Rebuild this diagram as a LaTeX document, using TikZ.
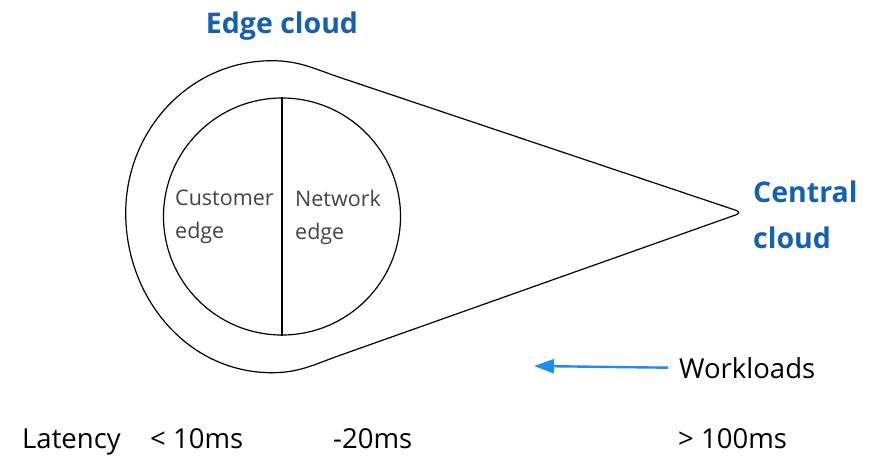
\documentclass[tikz,border=0pt]{standalone}
\usepackage{fontspec}
\setmainfont{Open Sans}
\usepackage{xcolor}
\definecolor{cloudBlue}{HTML}{1560B0}
\definecolor{edgeGray}{HTML}{444444}
\definecolor{flowBlue}{HTML}{1A8FEF}
\usepackage{tikz}
\usetikzlibrary{positioning,calc,arrows.meta}
\tikzset{%
  cloudTitle/.style={%
    font=\bfseries\fontsize{28.5}{46}\selectfont,
    text=cloudBlue,
    inner sep=0pt,
    align=left
  },
  edgeLabel/.style={%
    font=\fontsize{21.5}{33}\selectfont,
    text=edgeGray,
    inner sep=0pt,
    align=left
  },
  plainLabel/.style={%
    font=\fontsize{27.5}{32}\selectfont,
    inner sep=0pt
  },
  outline/.style={%
    draw=black,
    line width=1.2pt
  },
  flowArrow/.style={%
    -{Triangle[length=20pt,width=14pt]},
    line width=2.4pt,
    color=flowBlue
  }
}

\begin{document}
\begin{tikzpicture}[x=1pt,y=1pt]
            \useasboundingbox (0,0) rectangle (874,459);

            % teardrop outline of the edge cloud
            \coordinate (topJoin) at (340,381.5);
            \coordinate (topPt) at (272,398.3);
            \coordinate (leftPt) at (125.7,246);
            \coordinate (botPt) at (272,86.3);
            \coordinate (botJoin) at (340,103.7);
            \coordinate (tip) at (742.5,246.5);
            \draw[outline] (topJoin) to[out=161.5,in=0] (topPt)
                to[out=180,in=90] (leftPt)
                to[out=270,in=180] (botPt)
                to[out=0,in=199.5] (botJoin);
            \draw[outline, rounded corners=7pt] (botJoin) -- (tip) -- (topJoin);

            \node[circle, outline, minimum size=237pt, inner sep=0pt] (inner) at (282,242.5) {};
            \draw[outline] (inner.north) -- (inner.south);

            \node[edgeLabel, anchor=west] (customer) at (175,242) {Customer\\edge};
            \node[edgeLabel, anchor=west] (network) at (295,242) {Network\\edge};

            \node[cloudTitle, anchor=base] (edgeCloud) at (282,425.7) {Edge cloud};
            \node[cloudTitle, anchor=west] (central) at (753,244) {Central\\cloud};

            \node[plainLabel, anchor=base west] (workloads) at (679,81) {Workloads};
            \coordinate (flowEnd) at (534,93);
            \draw[flowArrow] ($(workloads.west)+(-11pt,0)$) -- (flowEnd);

            % latency scale
            \node[plainLabel, anchor=base west] (latency) at (22,11) {Latency};
            \node[plainLabel, anchor=base west] (lowLat) at (150,11) {< 10ms};
            \node[plainLabel, anchor=base west] (midLat) at (333,11) {-20ms};
            \node[plainLabel, anchor=base west] (highLat) at (678,11) {> 100ms};
        \end{tikzpicture}
\end{document}
